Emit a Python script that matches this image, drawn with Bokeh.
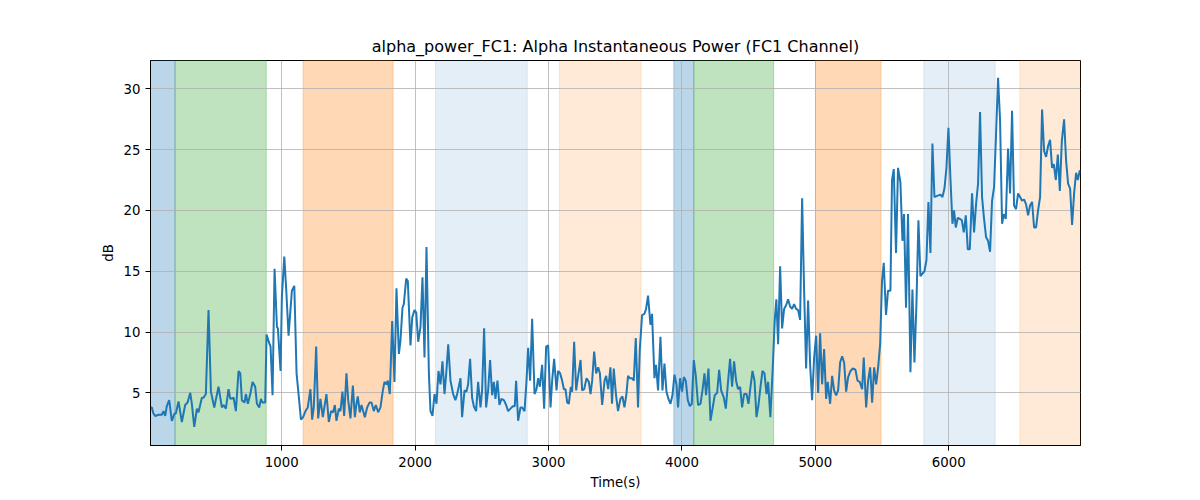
from bokeh.plotting import figure
from bokeh.models import Range1d, FixedTicker, BoxAnnotation
from bokeh.embed import file_html
from bokeh.resources import INLINE

# ---- data ----
times = [16, 26, 38, 51, 76, 101, 113, 126, 138, 156, 176, 196, 206, 226, 251, 276, 294, 314, 326, 344,
         364, 376, 401, 414, 431, 451, 469, 494, 526, 551, 564, 581, 601, 614, 639, 656, 676, 689, 701, 721,
         731, 746, 764, 781, 801, 814, 831, 844, 856, 876, 886, 909, 916, 931, 946, 964, 971, 991, 1001, 1019,
         1034, 1051, 1076, 1094, 1111, 1126, 1144,
         1160, 1178, 1195, 1215, 1228, 1240, 1258, 1273, 1290, 1308, 1335, 1353, 1370, 1385, 1398, 1410, 1428,
         1440, 1455, 1468, 1485, 1498, 1515, 1533, 1548, 1560, 1570, 1585, 1598, 1610, 1623, 1640, 1658, 1673,
         1690, 1705, 1723, 1740, 1758, 1770, 1785, 1795, 1810, 1828, 1845, 1860, 1878, 1890, 1905, 1915, 1933,
         1945, 1965, 1978, 1995, 2008, 2023, 2040, 2055, 2070, 2085, 2103, 2115, 2130, 2145, 2160, 2175, 2190,
         2205, 2220, 2233, 2248, 2265, 2285,
         2302, 2315, 2327, 2340, 2352, 2370, 2385, 2397, 2412, 2427, 2440, 2457, 2472, 2490, 2502, 2517, 2532,
         2547, 2562, 2577, 2590, 2602, 2617, 2632, 2647, 2665, 2682, 2697, 2715, 2732, 2747, 2757, 2772, 2790,
         2802, 2820, 2835, 2847, 2862, 2877, 2895, 2910, 2922, 2935, 2952, 2967, 2982, 2997, 3015, 3027, 3042,
         3060, 3072, 3087, 3102, 3115, 3127, 3140, 3152, 3167, 3177, 3192, 3207, 3222, 3240, 3252, 3267, 3285,
         3302, 3315, 3327, 3342, 3357, 3372, 3385, 3402, 3420, 3432, 3447,
         3464, 3476, 3489, 3506, 3521, 3539, 3554, 3569, 3584, 3596, 3609, 3626, 3639, 3654, 3671, 3684, 3701,
         3719, 3731, 3746, 3764, 3776, 3794, 3806, 3821, 3839, 3854, 3869, 3884, 3899, 3914, 3929, 3944, 3959,
         3971, 3986, 4001, 4014, 4029, 4044, 4059, 4074, 4089, 4104, 4121, 4139, 4154, 4169, 4181, 4199, 4214,
         4231, 4246, 4264, 4279, 4294, 4314, 4329, 4344, 4361, 4376, 4391, 4406, 4421, 4436, 4451, 4466, 4484,
         4499, 4514, 4529, 4544, 4559, 4574, 4589, 4604, 4619, 4634, 4646,
         4663, 4681, 4696, 4708, 4721, 4736, 4751, 4766, 4781, 4796, 4811, 4826, 4841, 4856, 4871, 4886, 4901,
         4916, 4931, 4946, 4961, 4976, 4991, 5006, 5021, 5036, 5051, 5066, 5081, 5093, 5111, 5126, 5141, 5156,
         5171, 5186, 5201, 5216, 5231, 5246, 5264, 5281, 5301, 5316, 5333, 5351, 5363, 5381, 5396, 5411, 5426,
         5441, 5456, 5471, 5486,
         5500, 5513, 5530, 5545, 5563, 5575, 5588, 5605, 5620, 5638, 5653, 5665, 5680, 5695, 5713, 5728, 5743,
         5758, 5773, 5788, 5803, 5818, 5833, 5848, 5863, 5878, 5893, 5913, 5938, 5953, 5968, 5983, 5998, 6013,
         6028, 6040, 6053, 6068, 6083, 6098, 6113, 6128, 6143, 6158, 6175, 6190, 6205, 6220, 6235, 6250, 6265,
         6280, 6295, 6310, 6325, 6340, 6355, 6370, 6385, 6400, 6413, 6428, 6445, 6460, 6475, 6490, 6505, 6520,
         6535, 6550, 6565, 6580, 6595, 6610, 6625, 6640, 6655, 6670, 6685, 6700, 6715, 6730, 6745, 6760, 6775,
         6788, 6803, 6818, 6833, 6848, 6865, 6880, 6895, 6910, 6925, 6940, 6955, 6968, 6983]

power_db = [3.8, 3.8, 3.3, 3.1, 3.2, 3.2, 3.5, 3.1, 3.9, 4.4, 2.7, 3.3, 3.3, 4.3, 2.6, 4.0, 4.2, 5.0, 4.1, 2.2,
            3.7, 3.4, 4.6, 4.6, 4.9, 11.8, 5.1, 3.8, 5.5, 3.8, 4.0, 3.7, 5.3, 4.5, 4.6, 3.5, 6.8, 6.6, 4.4, 4.2,
            4.9, 4.1, 4.9, 5.9, 5.5, 4.1, 3.8, 4.5, 4.2, 4.2, 9.8, 9.0, 8.8, 4.8, 15.2, 10.4, 10.3, 6.8, 12.9, 16.2,
            13.4, 9.7, 13.4, 13.8, 6.6, 4.9, 2.8,
            3.0, 3.5, 3.8, 5.3, 2.8, 3.8, 8.8, 2.9, 4.5, 3.0, 4.9, 2.6, 3.5, 3.4, 4.0, 2.7, 3.7,
            3.5, 5.1, 3.1, 6.6, 4.4, 2.9, 5.6, 3.0, 4.1, 4.7, 3.4, 4.0, 3.5, 3.0, 3.8, 4.2, 4.2,
            3.5, 4.0, 3.4, 3.8, 5.2, 5.9, 5.7, 6.0, 4.9, 10.9, 5.9, 13.6, 8.2, 9.3, 12.0, 12.3, 14.4,
            14.2, 8.9, 11.2, 11.8, 11.6, 9.2, 10.4, 14.5, 7.9, 17.0, 6.6, 3.5, 3.1, 4.9, 4.1, 6.8, 5.7,
            7.6, 4.9, 6.6, 9.0, 6.0, 4.9,
            4.4, 4.9, 5.5, 6.2, 3.0, 5.2, 5.1, 5.7, 7.8, 4.6, 3.9, 3.5, 5.9, 3.8, 5.2, 10.3, 3.8,
            5.2, 7.7, 4.8, 5.9, 4.5, 6.0, 4.0, 4.5, 4.4, 4.0, 3.5, 3.7, 3.9, 3.9, 6.0, 2.7, 3.8,
            3.8, 3.5, 6.0, 8.7, 6.0, 11.1, 4.9, 5.3, 6.2, 5.5, 7.3, 3.7, 8.8, 8.9, 3.8, 6.0, 7.8,
            5.2, 6.8, 6.6, 6.0, 5.3, 5.3, 4.2, 4.1, 5.5, 5.1, 9.2, 5.2, 6.4, 7.7, 5.2, 5.3, 6.2,
            5.9, 4.9, 6.0, 8.4, 6.6, 7.1, 6.6, 4.0, 6.0, 6.4, 5.3,
            7.1, 4.1, 7.0, 4.8, 3.5, 4.5, 4.7, 3.8, 4.9, 6.4, 6.2, 6.2, 6.0, 9.5, 3.8, 8.5, 11.4,
            11.5, 11.9, 13.0, 10.6, 11.5, 6.2, 7.3, 5.2, 9.6, 5.2, 7.4, 5.1, 4.5, 4.1, 4.8, 6.5, 5.7,
            3.8, 6.2, 5.1, 6.3, 6.0, 4.4, 3.9, 4.1, 7.7, 6.4, 4.0, 4.1, 5.2, 6.6, 4.8, 7.0, 2.7,
            3.8, 4.8, 5.0, 6.9, 5.2, 4.6, 3.7, 5.7, 7.8, 5.5, 7.6, 6.0, 5.3, 5.5, 3.8, 4.9, 4.9,
            4.1, 5.5, 6.8, 6.0, 3.0, 4.0, 5.5, 6.8, 6.6, 4.9, 5.9,
            3.0, 7.1, 11.0, 12.7, 9.0, 15.4, 10.3, 11.9, 12.2, 12.7, 12.1, 11.9, 12.3, 11.9, 11.8, 11.0, 21.0,
            13.4, 7.0, 12.6, 7.3, 4.4, 7.9, 9.7, 5.0, 9.9, 5.7, 8.6, 4.5, 5.9, 4.1, 6.4, 5.2, 4.8,
            5.2, 7.5, 8.0, 7.5, 5.1, 6.3, 6.8, 7.0, 6.9, 6.0, 5.9, 5.3, 7.9, 3.8, 6.0, 7.1, 4.2,
            7.1, 5.7, 7.1, 9.0,
            14.2, 15.7, 11.4, 13.4, 13.4, 22.5, 23.4, 16.5, 23.5, 22.3, 17.5, 19.7, 12.0, 19.7, 6.7, 13.5, 7.5,
            12.3, 19.2, 14.6, 14.8, 15.0, 15.9, 20.7, 16.5, 25.5, 21.1, 21.2, 21.3, 21.1, 21.8, 23.5, 26.8, 22.6,
            18.9, 20.0, 18.6, 19.4, 19.3, 19.2, 18.2, 19.6, 16.8, 16.8, 21.4, 18.2, 20.5, 22.2, 28.1, 21.1, 19.3,
            17.8, 17.5, 16.6, 20.8, 21.9, 26.3, 30.9, 27.4, 18.9, 19.7, 19.3, 25.1, 21.4, 28.2, 20.4, 20.1, 21.4,
            21.1, 20.8, 20.9, 20.5, 19.6, 20.4, 20.7, 18.6, 18.6, 20.0, 21.1, 28.3, 24.9, 24.4, 25.3, 25.8, 23.5,
            23.8, 22.5, 24.6, 21.6, 25.7, 27.5, 24.1, 22.2, 21.8, 18.8, 21.4, 23.1, 22.5, 23.3]

span_starts = [0, 200, 1160, 2153, 3082, 3939, 4089, 5001, 5813, 6533]
span_ends = [200, 884, 1835, 2840, 3694, 4089, 4688, 5493, 6348, 7000]
span_colors = ["#1f77b4", "#2ca02c", "#ff7f0e", "#1f77b4", "#ff7f0e",
               "#1f77b4", "#2ca02c", "#ff7f0e", "#1f77b4", "#ff7f0e"]
span_alphas = [0.3, 0.3, 0.3, 0.12, 0.16, 0.3, 0.3, 0.3, 0.12, 0.16]

x_ticks = [1000, 2000, 3000, 4000, 5000, 6000]
y_ticks = [5, 10, 15, 20, 25, 30]

FONT = "DejaVu Sans"

p = figure(width=1184, height=492, output_backend="svg", toolbar_location=None,
           x_range=Range1d(16, 6988), y_range=Range1d(0.67, 32.33),
           title="alpha_power_FC1: Alpha Instantaneous Power (FC1 Channel)",
           min_border_left=150, min_border_right=104, min_border_top=60, min_border_bottom=47)

p.title.align = "center"
p.title.text_font = FONT
p.title.text_font_size = "16px"
p.title.text_font_style = "normal"
p.title.text_color = "black"
p.title.standoff = 9

for s, e, c, a in zip(span_starts, span_ends, span_colors, span_alphas):
    p.add_layout(BoxAnnotation(left=s, right=e, fill_color=c, fill_alpha=a,
                               line_color=c, line_alpha=a, line_width=1, level="image"))

p.line(times, power_db, line_color="#1f77b4", line_width=2)

p.xaxis.ticker = FixedTicker(ticks=x_ticks)
p.yaxis.ticker = FixedTicker(ticks=y_ticks)
for ax in (p.xaxis[0], p.yaxis[0]):
    ax.major_label_text_font = FONT
    ax.major_label_text_font_size = "13.3px"
    ax.major_label_text_color = "black"
    ax.axis_label_text_font = FONT
    ax.axis_label_text_font_size = "13.3px"
    ax.axis_label_text_font_style = "normal"
    ax.axis_label_text_color = "black"
    ax.minor_tick_line_color = None
    ax.major_tick_in = 0
    ax.major_tick_out = 5
    ax.major_tick_line_color = "black"
    ax.axis_line_color = "black"
p.xaxis.major_label_standoff = 6
p.yaxis.major_label_standoff = 5
p.xaxis.axis_label = "Time(s)"
p.yaxis.axis_label = "dB"
p.xaxis.axis_label_standoff = 5
p.yaxis.axis_label_standoff = 5

p.grid.grid_line_color = "#b0b0b0"
p.grid.grid_line_width = 0.8
p.grid.grid_line_alpha = 1.0
p.outline_line_color = "black"
p.outline_line_width = 1
p.outline_line_alpha = 1.0
p.background_fill_color = "white"
p.border_fill_color = "white"

open("out.html", "w").write(file_html(p, INLINE))
